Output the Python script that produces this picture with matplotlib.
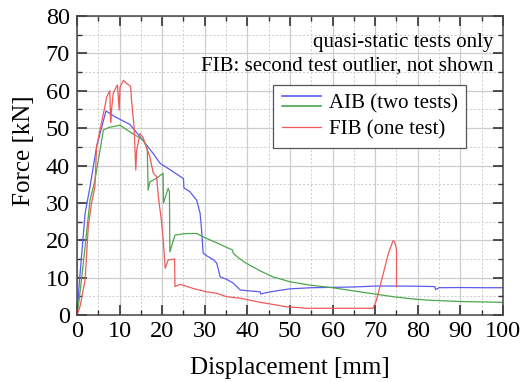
import matplotlib
matplotlib.use("Agg")
import matplotlib.pyplot as plt
from matplotlib.lines import Line2D
from matplotlib.legend_handler import HandlerBase
from matplotlib.ticker import MultipleLocator

plt.rcParams["font.family"] = ["Liberation Serif", "DejaVu Serif"]

# AIB test 1 (blue)
aib1_x = [0, 0.5, 1.9, 3.05, 4.6, 6.8, 9.0, 12.4, 14.8, 17.9, 19.5, 21.0, 23.0, 25.0, 25.1,
          26.5, 28.1, 28.9, 29.3, 29.6, 30.5, 32.0, 32.8, 33.6, 35.0, 36.6, 38.3, 40.0, 43.0,
          43.1, 44.5, 47.0, 50.0, 55.0, 60.0, 65.0, 70.3, 75.0, 80.0, 84.0, 84.2, 85.0, 90.0,
          95.0, 100.0]
aib1_y = [0, 8, 27.2, 34.3, 45.0, 54.6, 53.0, 51.0, 47.7, 43.2, 40.6, 39.5, 38.0, 36.5, 34.0,
          33.0, 30.7, 27.2, 22.0, 16.6, 15.8, 14.8, 13.9, 10.2, 9.6, 8.6, 6.7, 6.5, 6.2,
          5.6, 6.0, 6.5, 7.0, 7.3, 7.4, 7.5, 7.75, 7.75, 7.7, 7.6, 6.8, 7.3, 7.35,
          7.3, 7.3]

# AIB test 2 (green)
aib2_x = [0, 0.5, 1.5, 3.05, 4.2, 6.2, 7.5, 10.1, 12.4, 15.6, 16.5, 16.7, 17.1, 18.5, 20.2,
          20.3, 21.4, 21.7, 21.8, 23.0, 25.7, 28.1, 30.4, 33.0, 36.5, 36.7, 38.0, 39.8,
          43.0, 46.0, 50.0, 54.7, 60.0, 66.4, 70.0, 74.2, 78.0, 82.0, 90.0, 95.0, 100.0]
aib2_y = [0, 4, 14, 30.7, 36.0, 49.5, 50.2, 50.8, 49.0, 46.8, 44.5, 33.4, 35.6, 36.5, 37.9,
          30.0, 33.9, 33.0, 16.9, 21.4, 21.8, 21.8, 20.5, 19.2, 17.4, 16.5, 15.2, 13.8,
          11.8, 10.2, 8.9, 8.0, 7.3, 6.2, 5.6, 4.9, 4.4, 4.0, 3.6, 3.5, 3.4]

# FIB test (red)
fib_x = [0, 0.7, 1.9, 2.65, 3.4, 4.2, 4.6, 6.2, 7.0, 7.7, 7.9, 8.1, 8.5, 9.3, 9.5, 9.9, 10.1,
         10.9, 11.6, 12.6, 12.8, 13.4, 13.8, 14.0, 14.8, 15.5, 17.1, 17.9, 18.7, 19.1, 19.9,
         20.3, 20.7, 21.4, 22.9, 23.0, 24.2, 27.3, 30.4, 32.8, 35.1, 38.3, 43.0, 49.2,
         53.1, 53.3, 60.0, 69.5, 70.3, 71.9, 73.1, 74.2, 74.6, 75.0, 75.0]
fib_y = [0, 2.2, 9.4, 23.6, 29.9, 34.3, 45.0, 53.9, 58.4, 60.0, 51.5, 54.8, 59.3, 61.2, 61.5,
         54.8, 60.9, 62.8, 62.0, 61.2, 57.5, 50.3, 38.8, 44.0, 48.6, 47.5, 42.3, 38.0, 37.0,
         31.6, 24.5, 19.2, 12.5, 14.7, 15.0, 7.6, 8.2, 7.1, 6.2, 5.8, 4.9, 4.5, 3.4, 2.2,
         1.9, 1.8, 1.8, 1.8, 4.0, 11.1, 16.5, 19.9, 19.5, 17.4, 7.6]

BLUE = "#5b5bf0"
GREEN = "#4da64d"
RED = "#f05a5a"


class StackedLines(HandlerBase):
    # two short line samples stacked vertically for one legend entry
    def create_artists(self, legend, orig_handle, xdescent, ydescent, width, height, fontsize, trans):
        artists = []
        offsets = [0.75, 0.1]
        for line, off in zip(orig_handle, offsets):
            y = height * off + height * 0.08 - ydescent
            artists.append(Line2D([-xdescent, -xdescent + width], [y, y],
                                  color=line.get_color(), linewidth=1.2, transform=trans))
        return artists


def main() -> None:
    fig = plt.figure(figsize=(5.22, 3.82), dpi=100)
    ax = fig.add_axes([0.1475, 0.1754, 0.8161, 0.7826])

    (l1,) = ax.plot(aib1_x, aib1_y, color=BLUE, linewidth=0.9)
    (l2,) = ax.plot(aib2_x, aib2_y, color=GREEN, linewidth=0.9)
    (l3,) = ax.plot(fib_x, fib_y, color=RED, linewidth=0.9)

    ax.set_xlim(0, 100)
    ax.set_ylim(0, 80)
    ax.xaxis.set_major_locator(MultipleLocator(10))
    ax.xaxis.set_minor_locator(MultipleLocator(5))
    ax.yaxis.set_major_locator(MultipleLocator(10))
    ax.yaxis.set_minor_locator(MultipleLocator(5))
    ax.grid(True, which="major", color="#cccccc", linewidth=0.9)
    ax.grid(True, which="minor", color="#cccccc", linewidth=0.7, linestyle=(0, (2, 2)))
    ax.set_axisbelow(True)
    ax.tick_params(which="both", direction="in", top=True, right=True, colors="#333333",
                   labelcolor="black")
    ax.tick_params(which="major", length=7, width=1.2, labelsize=17.5)
    ax.tick_params(axis="x", which="major", pad=4)
    ax.tick_params(axis="y", which="major", pad=5)
    ax.tick_params(which="minor", length=3.5, width=1.0)
    for spine in ax.spines.values():
        spine.set_color("#444444")
        spine.set_linewidth(1.1)

    ax.set_xlabel("Displacement [mm]", fontsize=18)
    ax.xaxis.set_label_coords(0.5, -0.14)
    ax.set_ylabel("Force [kN]", fontsize=18)
    ax.yaxis.set_label_coords(-0.098, 0.548)

    ax.text(0.977, 0.91, "quasi-static tests only", transform=ax.transAxes,
            ha="right", va="center", fontsize=15)
    ax.text(0.977, 0.833, "FIB: second test outlier, not shown", transform=ax.transAxes,
            ha="right", va="center", fontsize=15)

    leg = ax.legend([(l1, l2), l3], ["AIB (two tests)", "FIB (one test)"],
                    handler_map={tuple: StackedLines()},
                    loc="upper left", bbox_to_anchor=(0.46, 0.77), fontsize=15,
                    fancybox=False, framealpha=1, edgecolor="#555555",
                    handlelength=1.9, handletextpad=0.35, borderpad=0.42, labelspacing=0.33,
                    borderaxespad=0)
    leg.get_frame().set_linewidth(0.9)

    fig.savefig("out.png", dpi=100)


if __name__ == "__main__":
    main()
